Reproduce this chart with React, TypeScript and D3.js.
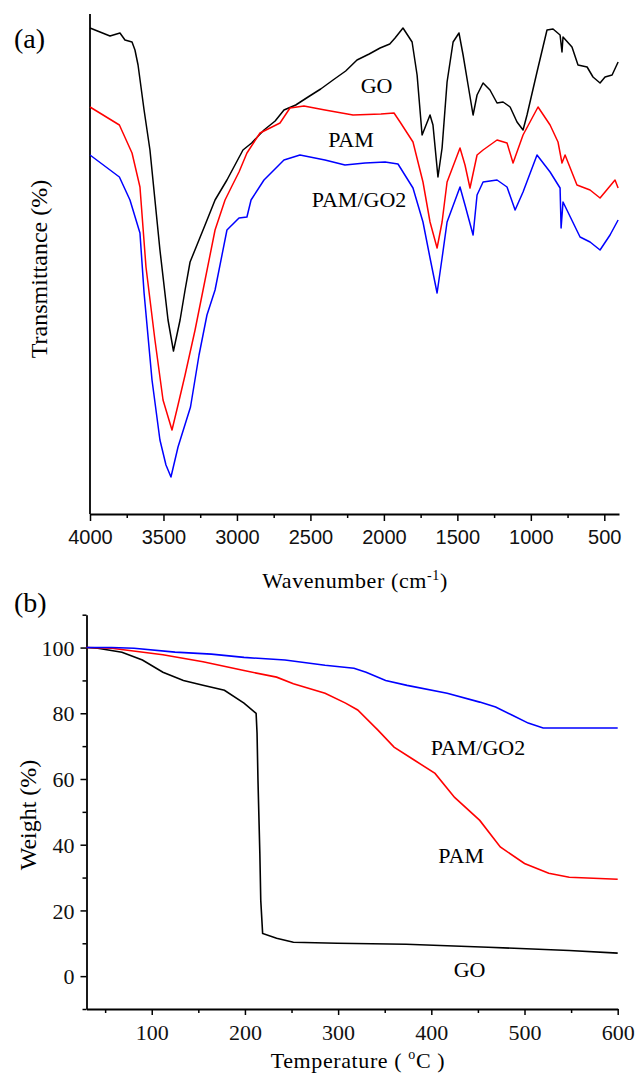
import { useRef, useEffect } from "react";
import * as d3 from "d3";

// FTIR spectra: [wavenumber cm-1, transmittance (a.u.)]
const ftirGO = [
  [4000, 97.2], [3932, 96.4], [3864, 95.6], [3796, 96.2], [3762, 94.8], [3714, 94.4],
  [3694, 92.8], [3673, 89.8], [3632, 80.8], [3592, 72.8], [3524, 52.8], [3469, 38.8],
  [3432, 32.6], [3387, 38.8], [3353, 44.8], [3319, 50.4], [3272, 53.8], [3217, 57.8],
  [3149, 62.8], [3068, 66.8], [2959, 72.8], [2900, 74.2], [2816, 76.8], [2740, 78.6],
  [2680, 80.8], [2600, 81.8], [2516, 83.4], [2430, 85.0], [2346, 86.8], [2260, 88.6],
  [2183, 90.8], [2100, 92.0], [2026, 93.2], [1960, 94.0], [1924, 95.2], [1870, 97.2],
  [1808, 94.4], [1774, 87.8], [1740, 75.8], [1686, 79.8], [1666, 77.8], [1632, 67.4],
  [1604, 73.2], [1570, 86.4], [1529, 94.4], [1489, 96.2], [1461, 91.8], [1427, 85.8],
  [1393, 79.8], [1366, 83.8], [1325, 86.2], [1278, 84.8], [1230, 82.2], [1189, 82.4],
  [1141, 81.4], [1094, 78.4], [1053, 76.8], [1026, 79.8], [958, 88.4], [890, 96.8],
  [849, 97.0], [801, 95.8], [788, 92.4], [781, 95.4], [720, 93.4], [679, 89.8],
  [617, 89.4], [577, 87.4], [529, 86.2], [495, 87.4], [447, 87.8], [406, 90.4],
];

const ftirPAM = [
  [4000, 81.4], [3800, 77.8], [3714, 72.2], [3660, 65.4], [3619, 49.4], [3558, 34.8],
  [3503, 22.8], [3442, 16.8], [3401, 21.8], [3353, 27.8], [3285, 36.8], [3217, 46.8],
  [3149, 56.8], [3081, 62.8], [3034, 65.6], [2986, 68.4], [2932, 72.2], [2843, 76.2],
  [2707, 78.2], [2639, 81.2], [2544, 81.6], [2401, 80.8], [2210, 79.8], [2020, 80.0],
  [1931, 80.2], [1890, 78.4], [1802, 74.4], [1734, 66.4], [1686, 58.4], [1638, 53.2],
  [1604, 58.4], [1570, 66.4], [1482, 73.2], [1448, 69.8], [1414, 65.2], [1366, 71.8],
  [1325, 72.8], [1230, 74.8], [1162, 74.2], [1121, 70.2], [1053, 75.8], [951, 81.4],
  [869, 77.8], [815, 74.4], [788, 70.2], [767, 71.8], [686, 65.8], [597, 64.8],
  [529, 63.2], [427, 66.8], [406, 65.2],
];

const ftirPAMGO2 = [
  [4000, 71.8], [3800, 67.4], [3728, 62.8], [3660, 56.2], [3632, 44.2], [3578, 26.8],
  [3524, 14.8], [3483, 9.8], [3449, 7.4], [3401, 13.4], [3316, 21.4], [3258, 31.8],
  [3204, 39.8], [3149, 44.8], [3068, 56.8], [2986, 59.2], [2932, 59.4], [2904, 62.8],
  [2816, 66.8], [2680, 70.8], [2571, 71.8], [2401, 70.8], [2265, 69.8], [2128, 70.2],
  [1992, 70.4], [1904, 70.0], [1802, 65.2], [1734, 58.4], [1686, 51.2], [1638, 44.2],
  [1604, 51.2], [1570, 58.4], [1482, 65.4], [1448, 61.8], [1393, 55.8], [1366, 63.8],
  [1325, 66.4], [1230, 66.8], [1162, 65.4], [1107, 60.8], [1053, 64.4], [958, 71.8],
  [869, 68.4], [801, 65.2], [794, 57.2], [781, 62.4], [665, 55.4], [597, 54.4],
  [529, 52.8], [461, 55.8], [406, 58.8],
];

// TGA curves: [temperature °C, weight %]
const tgaGO = [
  [30, 100], [42, 99.8], [68, 98.6], [90, 96.2], [112, 92.5], [134, 90], [155, 88.5],
  [178, 87], [199, 83.1], [212, 80], [213, 74], [214, 59.6], [216, 37.4], [217, 23],
  [219, 13], [234, 11.5], [252, 10.3], [299, 10], [373, 9.7], [461, 8.8], [548, 7.8],
  [600, 7],
];

const tgaPAM = [
  [30, 100], [57, 99.8], [112, 97.8], [155, 95.7], [199, 93], [234, 91], [252, 89],
  [286, 86.1], [308, 83.1], [321, 81], [343, 74.8], [360, 69.7], [382, 65.7],
  [404, 61.7], [425, 54.4], [452, 47.4], [474, 39.3], [500, 34.3], [526, 31.3],
  [548, 30.1], [600, 29.5],
];

const tgaPAMGO2 = [
  [30, 100], [57, 100], [81, 99.8], [125, 98.6], [164, 98], [199, 97], [243, 96.2],
  [286, 94.6], [317, 93.7], [330, 92.5], [351, 90], [374, 88.5], [417, 86.1],
  [452, 83.4], [469, 81.9], [487, 79.4], [504, 77], [520, 75.5], [600, 75.5],
];

const ftirMajorTicks = [4000, 3500, 3000, 2500, 2000, 1500, 1000, 500];
const ftirMinorTicks = [3750, 3250, 2750, 2250, 1750, 1250, 750];
const tgaXMajor = [100, 200, 300, 400, 500, 600];
const tgaXMinor = [50, 150, 250, 350, 450, 550];
const tgaYMajor = [0, 20, 40, 60, 80, 100];
const tgaYMinor = [-10, 10, 30, 50, 70, 90, 110];

const ftirLabels = [
  { text: "GO", wn: 2050, t: 84.2 },
  { text: "PAM", wn: 2224, t: 73.4 },
  { text: "PAM/GO2", wn: 2169, t: 61.4 },
];
const tgaLabels = [
  { text: "PAM/GO2", temp: 450, w: 67.2 },
  { text: "PAM", temp: 432, w: 34.3 },
  { text: "GO", temp: 441, w: -0.4 },
];

const serif = "'Liberation Serif', 'Times New Roman', serif";
const sans = "'Liberation Sans', Arial, sans-serif";

const App = () => {
  const svgRef = useRef<SVGSVGElement>(null);

  useEffect(() => {
    const svg = d3.select(svgRef.current);
    svg.selectAll("*").remove();

    // ---------- panel (a) FTIR ----------
    const xA = d3.scaleLinear().domain([4000, 400]).range([90, 619]);
    const yA = d3.scaleLinear().domain([0, 100]).range([514, 14]);

    const gA = svg.append("g");

    gA.append("line")
      .attr("x1", 90).attr("x2", 90)
      .attr("y1", yA(100)).attr("y2", yA(0))
      .attr("stroke", "#000").attr("stroke-width", 1.8);

    const axA = gA.append("g").attr("transform", `translate(0,${yA(0)})`)
      .call(d3.axisBottom(xA).tickValues(ftirMajorTicks).tickSize(7).tickSizeOuter(0)
        .tickPadding(23).tickFormat(d3.format("d")));
    axA.select(".domain").attr("stroke-width", 1.8);
    axA.selectAll("line").attr("stroke-width", 1.5);
    axA.selectAll("text").attr("dy", "0").attr("font-family", sans)
      .attr("font-size", 20).attr("fill", "#111");

    gA.append("g").attr("transform", `translate(0,${yA(0)})`)
      .call(d3.axisBottom(xA).tickValues(ftirMinorTicks).tickSize(4).tickFormat(() => ""))
      .call((g) => g.select(".domain").remove())
      .selectAll("line").attr("stroke-width", 1.5);

    const lineA = d3.line<number[]>().x((d) => xA(d[0])).y((d) => yA(d[1]));
    [
      [ftirGO, "#000"],
      [ftirPAM, "#ff0000"],
      [ftirPAMGO2, "#0000ff"],
    ].forEach(([data, color]) => {
      gA.append("path").datum(data as number[][])
        .attr("d", lineA).attr("fill", "none")
        .attr("stroke", color as string).attr("stroke-width", 1.5)
        .attr("stroke-linejoin", "round");
    });

    gA.selectAll("text.lbl").data(ftirLabels).join("text")
      .attr("class", "lbl")
      .attr("x", (d) => xA(d.wn)).attr("y", (d) => yA(d.t))
      .attr("text-anchor", "middle").attr("font-family", serif).attr("font-size", 22)
      .text((d) => d.text);

    gA.append("text").attr("transform", "translate(47,269) rotate(-90)")
      .attr("text-anchor", "middle").attr("font-family", serif).attr("font-size", 24)
      .text("Transmittance (%)");

    const wl = gA.append("text").attr("x", 355).attr("y", 588)
      .attr("text-anchor", "middle").attr("font-family", serif).attr("font-size", 22)
      .attr("letter-spacing", 0.6);
    wl.append("tspan").text("Wavenumber (cm");
    wl.append("tspan").attr("dy", -8).attr("font-size", 14).text("-1");
    wl.append("tspan").attr("dy", 8).text(")");

    gA.append("text").attr("x", 14).attr("y", 48)
      .attr("font-family", serif).attr("font-size", 28).text("(a)");

    // ---------- panel (b) TGA ----------
    const xB = d3.scaleLinear().domain([30, 600]).range([86.5, 617.7]);
    const yB = d3.scaleLinear().domain([-10, 110]).range([1009, 614.7]);

    const gB = svg.append("g");

    const axBx = gB.append("g").attr("transform", `translate(0,${yB(-10)})`)
      .call(d3.axisBottom(xB).tickValues(tgaXMajor).tickSize(6).tickSizeOuter(0)
        .tickPadding(25));
    axBx.select(".domain").attr("stroke-width", 1.8);
    axBx.selectAll("line").attr("stroke-width", 1.5);
    axBx.selectAll("text").attr("dy", "0").attr("font-family", serif)
      .attr("font-size", 22).attr("fill", "#111");
    gB.append("g").attr("transform", `translate(0,${yB(-10)})`)
      .call(d3.axisBottom(xB).tickValues(tgaXMinor).tickSize(4).tickFormat(() => ""))
      .call((g) => g.select(".domain").remove())
      .selectAll("line").attr("stroke-width", 1.5);

    const axBy = gB.append("g").attr("transform", `translate(${xB(30)},0)`)
      .call(d3.axisLeft(yB).tickValues(tgaYMajor).tickSize(6).tickSizeOuter(0)
        .tickPadding(6));
    axBy.select(".domain").attr("stroke-width", 1.8);
    axBy.selectAll("line").attr("stroke-width", 1.5);
    axBy.selectAll("text").attr("dy", "0.35em").attr("font-family", serif)
      .attr("font-size", 22).attr("fill", "#111");
    gB.append("g").attr("transform", `translate(${xB(30)},0)`)
      .call(d3.axisLeft(yB).tickValues(tgaYMinor).tickSize(4).tickFormat(() => ""))
      .call((g) => g.select(".domain").remove())
      .selectAll("line").attr("stroke-width", 1.5);

    const lineB = d3.line<number[]>().x((d) => xB(d[0])).y((d) => yB(d[1]));
    [
      [tgaGO, "#000"],
      [tgaPAM, "#ff0000"],
      [tgaPAMGO2, "#0000ff"],
    ].forEach(([data, color]) => {
      gB.append("path").datum(data as number[][])
        .attr("d", lineB).attr("fill", "none")
        .attr("stroke", color as string).attr("stroke-width", 1.6);
    });

    gB.selectAll("text.lbl").data(tgaLabels).join("text")
      .attr("class", "lbl")
      .attr("x", (d) => xB(d.temp)).attr("y", (d) => yB(d.w))
      .attr("text-anchor", "middle").attr("font-family", serif).attr("font-size", 22)
      .text((d) => d.text);

    gB.append("text").attr("transform", "translate(36,815) rotate(-90)")
      .attr("text-anchor", "middle").attr("font-family", serif).attr("font-size", 24)
      .text("Weight (%)");

    const tl = gB.append("text").attr("x", 358).attr("y", 1068)
      .attr("text-anchor", "middle").attr("font-family", serif).attr("font-size", 22)
      .attr("letter-spacing", 0.6);
    tl.append("tspan").text("Temperature ( ");
    tl.append("tspan").attr("dy", -9).attr("font-size", 14).text("o");
    tl.append("tspan").attr("dy", 9).text("C )");

    gB.append("text").attr("x", 14).attr("y", 612)
      .attr("font-family", serif).attr("font-size", 28).text("(b)");
  }, []);

  return (
    <svg
      ref={svgRef}
      width={637}
      height={1079}
      style={{ position: "absolute", left: 0, top: 0, background: "#fff" }}
    />
  );
};

export default App;
